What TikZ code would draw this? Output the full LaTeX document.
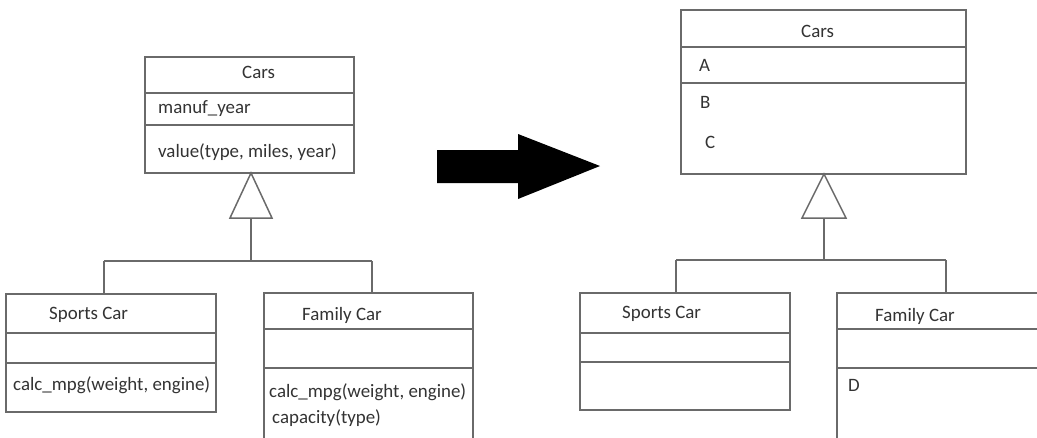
\documentclass[tikz,border=0pt]{standalone}
\usepackage{fontspec}
\setmainfont{Carlito}
\begin{document}
\begin{tikzpicture}[x=1pt,y=-1pt,
  umlbox/.style={draw=linegray, line width=1.5pt, rectangle, inner sep=0pt, anchor=north west},
  conn/.style={draw=linegray, line width=1.5pt},
  lbl/.style={anchor=base west, inner sep=0pt, text=textgray, font=\fontsize{18.9}{22}\selectfont}]
\definecolor{linegray}{HTML}{6A6A6A}
\definecolor{textgray}{HTML}{333333}
\useasboundingbox (0,0) rectangle (1037,437);
\clip (0,0) rectangle (1037,437);
\fill[white] (0,0) rectangle (1037,437);

% ---------- left diagram ----------
\node[umlbox, minimum width=209pt, minimum height=116pt] (carsL) at (144,56) {};
\draw[conn] ([yshift=-37pt]carsL.north west) -- ([yshift=-37pt]carsL.north east);
\draw[conn] ([yshift=-69pt]carsL.north west) -- ([yshift=-69pt]carsL.north east);
\node[lbl] (carsLt) at (242,78) {Cars};
\node[lbl] (carsLa) at (158,113) {manuf\_year};
\node[lbl] (carsLm) at (158,157) {value(type, miles, year)};

\node[umlbox, minimum width=210pt, minimum height=118pt] (sportL) at (5,293) {};
\draw[conn] ([yshift=-40pt]sportL.north west) -- ([yshift=-40pt]sportL.north east);
\draw[conn] ([yshift=-70pt]sportL.north west) -- ([yshift=-70pt]sportL.north east);
\node[lbl] (sportLt) at (49,319) {Sports Car};
\node[lbl] (sportLm) at (13,390) {calc\_mpg(weight, engine)};

\node[umlbox, minimum width=209pt, minimum height=170pt] (famL) at (263,292) {};
\draw[conn] ([yshift=-37pt]famL.north west) -- ([yshift=-37pt]famL.north east);
\draw[conn] ([yshift=-76pt]famL.north west) -- ([yshift=-76pt]famL.north east);
\node[lbl] (famLt) at (302,320) {Family Car};
\node[lbl] (famLm) at (269,397) {calc\_mpg(weight, engine)};
\node[lbl] (famLm2) at (272,423) {capacity(type)};

\coordinate (apexL) at (251,173);
\coordinate (baseL) at (251,218);
\coordinate (jL) at (251,261);
\coordinate (jLl) at (104,261);
\coordinate (jLr) at (372,261);
\draw[conn, fill=white, line join=miter] (apexL) -- (230,218) -- (272,218) -- cycle;
\draw[conn] (baseL) -- (jL);
\draw[conn] (jLl) -- (jLr);
\draw[conn] (jLl) -- (jLl |- sportL.north);
\draw[conn] (jLr) -- (jLr |- famL.north);

% ---------- big arrow ----------
\fill[black] (437,150) -- (518,150) -- (518,134) -- (600,166) -- (518,199) -- (518,183) -- (437,183) -- cycle;

% ---------- right diagram ----------
\node[umlbox, minimum width=285pt, minimum height=164pt] (carsR) at (680,9) {};
\draw[conn] ([yshift=-38pt]carsR.north west) -- ([yshift=-38pt]carsR.north east);
\draw[conn] ([yshift=-74pt]carsR.north west) -- ([yshift=-74pt]carsR.north east);
\node[lbl] (carsRt) at (801,37) {Cars};
\node[lbl] (carsRa) at (699,71) {A};
\node[lbl] (carsRb) at (700,108) {B};
\node[lbl] (carsRc) at (705,148) {C};

\node[umlbox, minimum width=210pt, minimum height=117pt] (sportR) at (579,292) {};
\draw[conn] ([yshift=-41pt]sportR.north west) -- ([yshift=-41pt]sportR.north east);
\draw[conn] ([yshift=-70pt]sportR.north west) -- ([yshift=-70pt]sportR.north east);
\node[lbl] (sportRt) at (622,318) {Sports Car};

\node[umlbox, minimum width=240pt, minimum height=170pt] (famR) at (836,292) {};
\draw[conn] ([yshift=-37pt]famR.north west) -- ([yshift=-37pt]famR.north east);
\draw[conn] ([yshift=-76pt]famR.north west) -- ([yshift=-76pt]famR.north east);
\node[lbl] (famRt) at (875,321) {Family Car};
\node[lbl] (famRd) at (848,391) {D};

\coordinate (apexR) at (824,174);
\coordinate (baseR) at (824,218);
\coordinate (jR) at (824,260);
\coordinate (jRl) at (676,260);
\coordinate (jRr) at (946,260);
\draw[conn, fill=white, line join=miter] (apexR) -- (802,218) -- (846,218) -- cycle;
\draw[conn] (baseR) -- (jR);
\draw[conn] (jRl) -- (jRr);
\draw[conn] (jRl) -- (jRl |- sportR.north);
\draw[conn] (jRr) -- (jRr |- famR.north);
\end{tikzpicture}
\end{document}
